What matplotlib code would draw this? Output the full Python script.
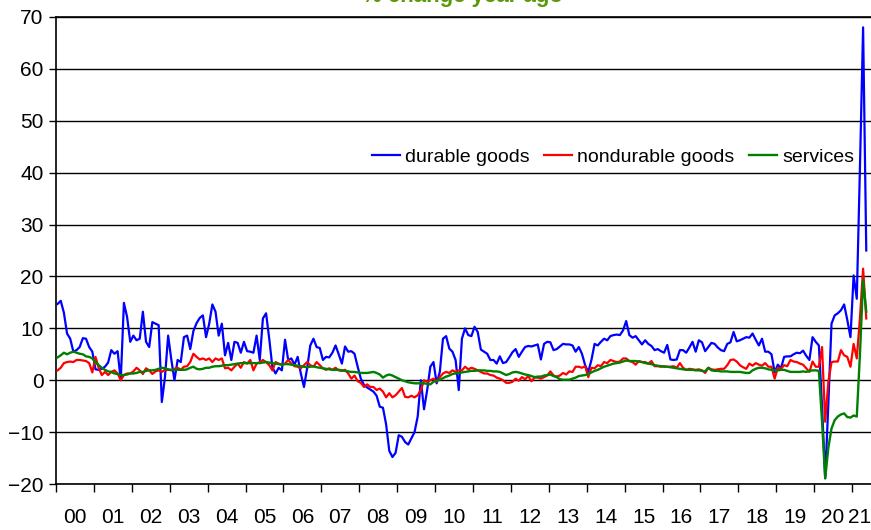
import numpy as np
import matplotlib
matplotlib.use("Agg")
import matplotlib.pyplot as plt

plt.rcParams['font.family'] = ['Liberation Sans', 'DejaVu Sans']

start_year = 2000
year_labels = ["00", "01", "02", "03", "04", "05", "06", "07", "08", "09", "10",
               "11", "12", "13", "14", "15", "16", "17", "18", "19", "20", "21"]
series_names = ["durable goods", "nondurable goods", "services"]
title_text = "% change year ago"

# monthly % change year ago, Jan 2000 - May 2021
durable = [
    14.7, 15.3, 13.0, 9.0, 8.0, 5.5, 5.8, 6.4, 8.1, 8.0, 6.4, 5.5,          # 2000
    2.1, 2.0, 2.2, 2.6, 3.4, 5.8, 5.1, 5.6, 0.0, 14.9, 12.2, 7.4,          # 2001
    8.6, 7.7, 8.0, 13.2, 7.4, 6.4, 11.2, 10.9, 10.6, -4.2, 0.6, 8.6,       # 2002
    4.0, 0.0, 3.9, 3.5, 8.3, 8.6, 6.0, 9.5, 11.0, 12.0, 12.5, 8.3,         # 2003
    10.9, 14.6, 13.2, 8.6, 10.9, 4.8, 7.2, 3.9, 7.4, 7.2, 5.3, 7.4,        # 2004
    5.6, 5.5, 5.3, 8.6, 3.9, 11.9, 12.9, 8.0, 2.5, 1.3, 2.4, 1.9,          # 2005
    7.8, 3.9, 4.2, 3.0, 4.5, 1.3, -1.3, 2.3, 6.7, 8.0, 6.4, 6.2,           # 2006
    3.9, 4.5, 4.4, 5.3, 6.7, 5.0, 3.2, 6.5, 5.5, 5.6, 5.1, 2.6,            # 2007
    0.3, -0.9, -1.4, -1.8, -2.2, -3.0, -5.1, -5.3, -8.5, -13.6, -14.8, -14.0,  # 2008
    -10.6, -10.9, -11.9, -12.4, -11.2, -10.0, -7.0, 0.0, -5.6, -1.9, 2.6, 3.5,  # 2009
    -0.6, 1.6, 8.0, 8.5, 6.1, 5.5, 3.9, -1.9, 8.0, 10.0, 8.7, 8.5,         # 2010
    10.3, 9.3, 5.9, 5.5, 5.1, 3.9, 3.9, 3.2, 4.6, 3.3, 3.5, 4.4,           # 2011
    5.4, 6.0, 4.5, 5.5, 6.4, 6.6, 6.5, 6.7, 6.9, 4.0, 7.0, 7.4,            # 2012
    7.3, 5.8, 6.0, 6.5, 7.0, 6.9, 6.9, 6.7, 5.5, 6.4, 5.1, 2.9,            # 2013
    1.6, 3.9, 7.0, 6.7, 7.4, 8.0, 7.7, 8.5, 8.7, 8.8, 8.7, 9.6,            # 2014
    11.4, 8.7, 8.2, 8.5, 7.7, 6.9, 7.7, 7.0, 6.6, 5.8, 6.0, 5.6,           # 2015
    5.3, 6.8, 4.0, 3.9, 4.0, 5.8, 5.8, 5.3, 6.3, 7.4, 5.5, 7.7,            # 2016
    7.3, 5.6, 6.4, 7.2, 7.0, 6.3, 5.8, 5.6, 7.0, 7.3, 9.3, 7.5,            # 2017
    7.7, 8.0, 8.3, 8.2, 9.0, 7.8, 6.7, 8.0, 5.5, 5.5, 5.0, 1.5,            # 2018
    3.0, 2.3, 4.5, 4.6, 4.6, 5.0, 5.3, 5.2, 5.7, 4.7, 3.9, 8.3,            # 2019
    7.4, 6.7, -5.0, -18.9, -4.5, 10.9, 12.5, 12.9, 13.5, 14.6, 11.6, 8.3,  # 2020
    20.2, 15.7, 41.0, 68.0, 25.0,                                          # 2021
]

nondurable = [
    1.9, 2.4, 3.3, 3.5, 3.6, 3.5, 3.9, 3.9, 3.8, 3.7, 3.3, 1.5,            # 2000
    4.5, 2.4, 1.0, 1.6, 1.0, 1.6, 1.9, 1.3, 0.0, 1.0, 1.3, 1.3,            # 2001
    1.7, 2.4, 1.9, 1.2, 2.3, 1.9, 1.2, 1.7, 1.9, 1.6, 2.0, 2.0,            # 2002
    1.9, 2.2, 2.4, 2.0, 2.6, 2.7, 3.5, 5.1, 4.5, 4.0, 4.2, 3.9,            # 2003
    4.2, 3.5, 4.2, 3.9, 4.2, 2.3, 2.4, 1.9, 2.6, 3.2, 2.4, 3.5,            # 2004
    3.2, 3.9, 1.9, 3.2, 3.5, 3.9, 3.5, 2.9, 1.9, 3.5, 3.2, 3.0,            # 2005
    3.2, 3.9, 3.2, 2.7, 2.6, 2.3, 2.9, 3.5, 2.9, 2.6, 3.5, 2.9,            # 2006
    2.3, 2.0, 2.3, 2.0, 2.4, 1.9, 1.8, 2.0, 1.3, 0.3, 0.9, -0.2,           # 2007
    -0.5, -1.3, -0.8, -1.3, -1.3, -1.9, -1.6, -2.2, -3.3, -2.5, -3.3, -2.9,  # 2008
    -2.2, -1.5, -3.2, -3.3, -3.0, -3.3, -2.9, -1.9, 0.0, -0.3, 0.0, 0.3,   # 2009
    -0.3, 0.6, 1.3, 1.6, 1.4, 1.9, 1.6, 1.9, 1.9, 2.6, 2.1, 2.4,           # 2010
    2.2, 1.9, 1.6, 1.3, 1.3, 1.0, 0.9, 0.5, 0.3, 0.0, -0.5, -0.5,          # 2011
    -0.3, 0.3, -0.1, 0.6, 0.2, 0.8, -0.2, 0.5, 0.5, 0.3, 0.6, 0.9,         # 2012
    1.7, 0.9, 0.7, 0.9, 1.4, 1.1, 1.7, 1.6, 2.6, 2.6, 2.4, 2.7,            # 2013
    0.6, 2.4, 2.3, 2.9, 2.7, 3.5, 3.3, 3.9, 3.7, 3.5, 3.6, 4.2,            # 2014
    4.2, 3.7, 3.5, 3.0, 3.7, 3.5, 3.5, 3.2, 3.7, 2.7, 2.7, 2.6,            # 2015
    2.7, 2.6, 2.6, 2.7, 2.4, 3.3, 2.4, 2.0, 2.2, 2.1, 2.0, 2.1,            # 2016
    1.9, 1.4, 2.4, 2.1, 2.0, 2.1, 2.2, 2.2, 2.9, 3.9, 4.0, 3.6,            # 2017
    2.9, 2.5, 2.2, 3.2, 2.8, 3.3, 3.0, 2.8, 3.3, 2.6, 2.6, 0.3,            # 2018
    2.4, 2.2, 2.9, 2.7, 3.9, 3.6, 3.5, 3.2, 3.0, 2.3, 1.6, 3.6,            # 2019
    2.6, 2.6, 6.4, -8.0, -0.3, 3.5, 3.6, 3.6, 5.8, 4.8, 4.5, 2.6,          # 2020
    7.0, 4.2, 12.0, 21.5, 11.9,                                            # 2021
]

services = [
    4.4, 4.8, 5.3, 5.0, 5.3, 5.5, 5.3, 5.1, 5.0, 4.6, 4.5, 4.2,            # 2000
    3.5, 2.9, 2.4, 2.0, 1.7, 1.6, 1.3, 1.2, 1.0, 1.0, 1.1, 1.3,            # 2001
    1.3, 1.4, 1.6, 1.6, 1.8, 1.9, 1.9, 2.0, 2.2, 2.4, 2.3, 2.1,            # 2002
    2.0, 2.0, 2.0, 2.0, 2.0, 2.1, 2.4, 2.6, 2.2, 2.1, 2.2, 2.4,            # 2003
    2.4, 2.6, 2.7, 2.7, 2.8, 2.9, 2.9, 3.0, 3.1, 3.2, 3.3, 3.3,            # 2004
    3.3, 3.3, 3.3, 3.3, 3.3, 3.4, 3.5, 3.4, 3.3, 3.2, 3.1, 3.0,            # 2005
    3.1, 3.1, 3.0, 2.9, 2.8, 2.7, 2.6, 2.5, 2.6, 2.7, 2.5, 2.4,            # 2006
    2.3, 2.2, 2.1, 2.0, 2.0, 2.0, 1.9, 1.8, 1.7, 1.6, 1.6, 1.5,            # 2007
    1.4, 1.4, 1.4, 1.5, 1.6, 1.4, 1.1, 0.5, 0.9, 1.1, 0.9, 0.6,            # 2008
    0.3, 0.0, -0.2, -0.4, -0.5, -0.6, -0.6, -0.6, -0.6, -0.7, -0.8, -0.3,  # 2009
    -0.1, 0.1, 0.4, 0.7, 0.9, 1.2, 1.3, 1.4, 1.5, 1.6, 1.7, 1.8,           # 2010
    1.8, 1.9, 1.9, 1.9, 1.8, 1.8, 1.7, 1.7, 1.6, 1.3, 1.0, 1.2,            # 2011
    1.5, 1.6, 1.5, 1.3, 1.1, 1.0, 0.8, 0.6, 0.7, 0.7, 0.9, 1.0,            # 2012
    1.1, 0.8, 0.6, 0.2, 0.1, 0.1, 0.1, 0.3, 0.5, 0.8, 0.9, 1.0,            # 2013
    1.2, 1.5, 1.8, 2.0, 2.3, 2.6, 2.8, 3.0, 3.2, 3.3, 3.4, 3.6,            # 2014
    3.8, 3.7, 3.7, 3.7, 3.6, 3.5, 3.3, 3.2, 3.1, 2.9, 2.8, 2.7,            # 2015
    2.6, 2.6, 2.5, 2.4, 2.3, 2.2, 2.1, 2.0, 2.0, 2.0, 1.9, 1.9,            # 2016
    1.8, 1.7, 2.4, 1.9, 1.8, 1.8, 1.7, 1.7, 1.7, 1.6, 1.6, 1.6,            # 2017
    1.6, 1.5, 1.4, 1.4, 1.9, 2.2, 2.4, 2.4, 2.3, 2.1, 2.0, 1.9,            # 2018
    1.9, 2.0, 2.0, 1.8, 1.6, 1.6, 1.6, 1.6, 1.7, 1.6, 1.8, 1.9,            # 2019
    1.9, 1.8, -8.0, -18.9, -13.0, -9.3, -7.7, -7.0, -6.6, -6.4, -7.1, -7.2,  # 2020
    -6.8, -7.0, 5.0, 19.3, 13.2,                                           # 2021
]

W, H = 871, 530
fig = plt.figure(figsize=(W / 100, H / 100), dpi=100)
left, right, top, bottom = 56, 871, 17, 484
ax = fig.add_axes([left / W, 1 - bottom / H, (right - left) / W, (bottom - top) / H])

n = len(durable)
x = start_year + (np.arange(n) + 0.5) / 12.0
x_end = 2021.5

ax.plot(x, durable, color='#0000ff', lw=1.6, label=series_names[0], zorder=3)
ax.plot(x, nondurable, color='#ff0000', lw=1.6, label=series_names[1], zorder=4)
ax.plot(x, services, color='#008000', lw=1.7, label=series_names[2], zorder=5)

ax.set_xlim(start_year, x_end)
ax.set_ylim(-20, 70)

# y axis
ax.set_yticks(np.arange(-20, 71, 10))
ax.tick_params(axis='y', direction='out', length=5, width=1, pad=4, labelsize=15, color='black')
ax.yaxis.grid(True, color='black', lw=1)

# x axis: ticks at year boundaries, labels centred in the visible part of each year
years = np.arange(2000, 2022)
ax.set_xticks(years)
ax.set_xticklabels([])
label_pos = [(y + min(y + 1, x[-1] + 1 / 24)) / 2 for y in years]
ax.set_xticks(label_pos, minor=True)
ax.set_xticklabels(year_labels, minor=True)
ax.tick_params(axis='x', which='major', direction='out', length=6, width=1, color='black')
ax.tick_params(axis='x', which='minor', length=0, pad=17, labelsize=15)

for side in ['left', 'bottom', 'top']:
    ax.spines[side].set_color('black')
    ax.spines[side].set_linewidth(1.2)
ax.spines['right'].set_visible(False)
ax.set_axisbelow(True)

leg = ax.legend(loc='center left', bbox_to_anchor=((372 - left) / (right - left), (bottom - 157) / (bottom - top)),
                ncol=3, frameon=False, fontsize=14, handlelength=1.45, handletextpad=0.25,
                columnspacing=0.75, borderpad=0, borderaxespad=0)

fig.text(462 / W, 1 + 3 / H, title_text, color='#5a9a08', fontsize=16, fontweight='bold',
         ha='center', va='center')

fig.savefig('out.png', dpi=100)
